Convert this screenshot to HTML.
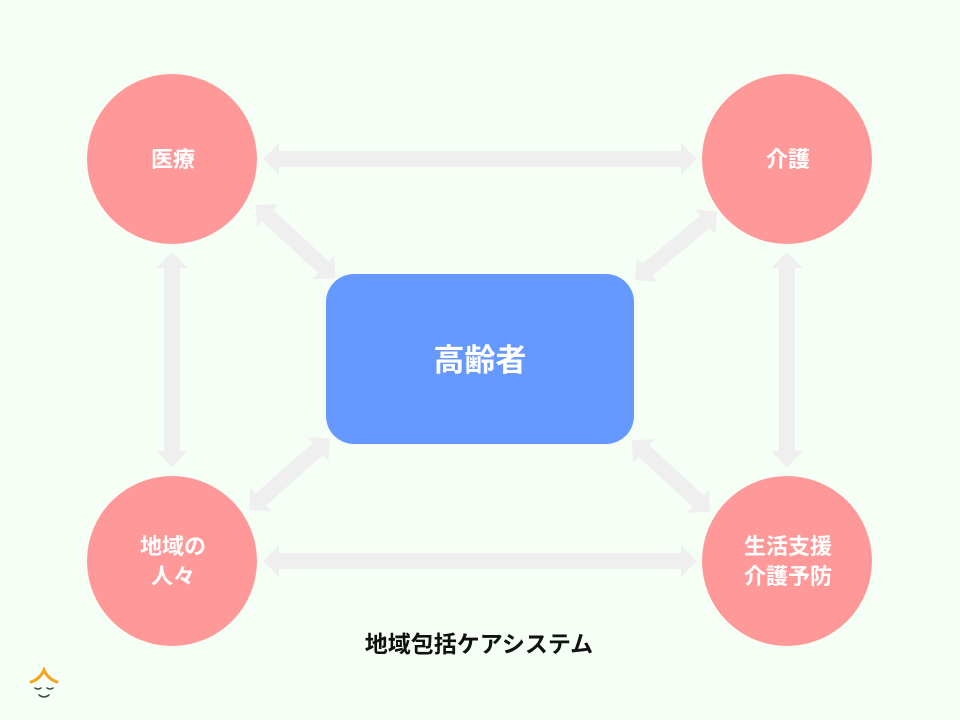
<!DOCTYPE html>
<html><head><meta charset="utf-8"><style>
html,body{margin:0;padding:0;background:#f6fff6;}
svg{display:block}
text{font-family:"Liberation Sans","Noto Sans CJK JP",sans-serif;font-weight:bold}
</style></head><body>
<svg width="960" height="720" viewBox="0 0 960 720" xmlns="http://www.w3.org/2000/svg">
<rect width="960" height="720" fill="#f6fff6"/>
<g fill="#efefef">
<g transform="translate(263,159)"><polygon points="0,0 16,-16 16,-8 418,-8 418,-16 434,0 418,16 418,8 16,8 16,16"/></g>
<g transform="translate(263,561)"><polygon points="0,0 16,-16 16,-8 418,-8 418,-16 434,0 418,16 418,8 16,8 16,16"/></g>
<g transform="translate(172,252) rotate(90)"><polygon points="0,0 16,-16 16,-8 199,-8 199,-16 215,0 199,16 199,8 16,8 16,16"/></g>
<g transform="translate(787,252) rotate(90)"><polygon points="0,0 16,-16 16,-8 199,-8 199,-16 215,0 199,16 199,8 16,8 16,16"/></g>
<g transform="translate(256,205) rotate(42.7)"><polygon points="0,0 16,-16 16,-8 92,-8 92,-16 108,0 92,16 92,8 16,8 16,16"/></g>
<g transform="translate(635,280) rotate(-39.7)"><polygon points="0,0 16,-16 16,-8 91,-8 91,-16 107,0 91,16 91,8 16,8 16,16"/></g>
<g transform="translate(249,510) rotate(-41.6)"><polygon points="0,0 16,-16 16,-8 92,-8 92,-16 108,0 92,16 92,8 16,8 16,16"/></g>
<g transform="translate(632,440) rotate(42.7)"><polygon points="0,0 16,-16 16,-8 90,-8 90,-16 106,0 90,16 90,8 16,8 16,16"/></g>
</g>
<g fill="#ff9999">
<circle cx="172" cy="159" r="85"/>
<circle cx="787" cy="159" r="85"/>
<circle cx="172" cy="561" r="85"/>
<circle cx="787" cy="561" r="85"/>
</g>
<rect x="326" y="274" width="308" height="170" rx="28" fill="#6699ff"/>
<g fill="#fff" font-size="22" text-anchor="middle">
<text x="173" y="167">医療</text>
<text x="788" y="167">介護</text>
<text x="173" y="554">地域の</text>
<text x="173" y="584">人々</text>
<text x="788" y="554">生活支援</text>
<text x="788" y="584">介護予防</text>
<text x="480" y="371" font-size="31">高齢者</text>
</g>
<text x="479" y="652" font-size="23" text-anchor="middle" fill="#111">地域包括ケアシステム</text>
<g fill="none" stroke-linecap="round">
<path d="M31 682 Q40 679 44 670 Q48 679 57 682" stroke="#f7a21b" stroke-width="3"/>
<path d="M35 688 q3 2 6 0 M47 688 q3 2 6 0" stroke="#444" stroke-width="1.5"/>
<path d="M39 695 q5 4 10 0" stroke="#444" stroke-width="1.5"/>
</g>
</svg>
</body></html>
